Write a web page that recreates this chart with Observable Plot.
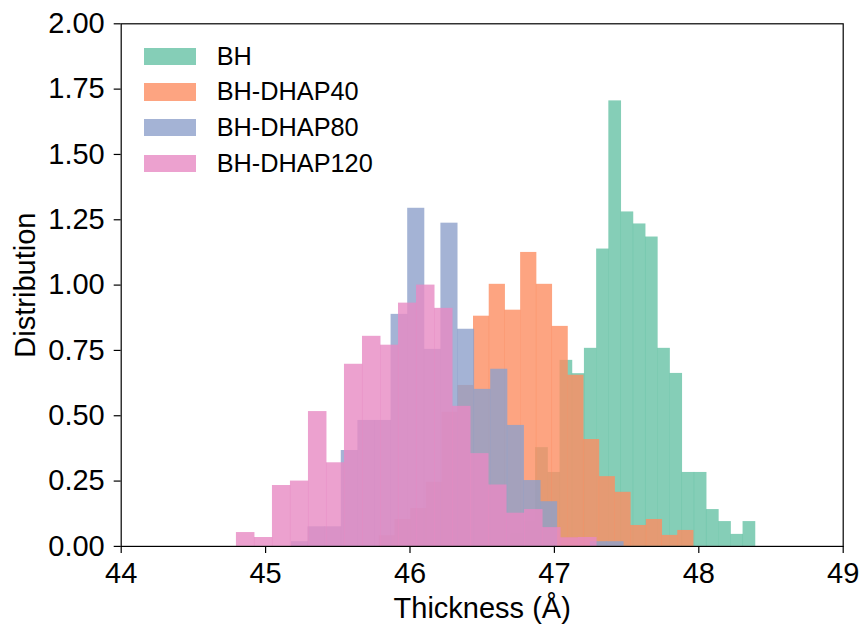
<!DOCTYPE html>
<html>
<head>
<meta charset="utf-8">
<script src="https://cdn.jsdelivr.net/npm/d3@7"></script>
<script src="https://cdn.jsdelivr.net/npm/@observablehq/plot@0.6"></script>
<style>
  body { margin: 0; background: #fff; }
  #wrap { position: relative; width: 863px; height: 629px; font-family: "Liberation Sans", Arial, sans-serif; }
  #wrap svg { display: block; }
  .item { position: absolute; display: flex; align-items: center; height: 17.3px; }
  .patch { width: 52px; height: 17.3px; }
  .lab { margin-left: 20.7px; font-size: 25.3px; line-height: 17.3px; color: #000; white-space: nowrap; }
</style>
</head>
<body>
<div id="wrap"></div>
<script>
// ---- data ----
const series = ["BH", "BH-DHAP40", "BH-DHAP80", "BH-DHAP120"];
const seriesColors = ["#66c2a5", "#fc8d62", "#8da0cb", "#e78ac3"];

// histogram range (Å) of each series, 20 bins each
const binLo = [46.701, 45.787, 45.179, 44.798];
const binHi = [48.391, 47.963, 47.479, 47.292];

// densities per bin
const densityBH = [0.047, 0.095, 0.378, 0.283, 0.712, 0.661, 0.758, 1.138, 1.705, 1.280,
                   1.234, 1.184, 0.758, 0.662, 0.283, 0.283, 0.141, 0.095, 0.046, 0.095];
const densityDHAP40 = [0.041, 0.103, 0.145, 0.245, 0.513, 0.616, 0.881, 1.003, 0.904, 1.125,
                       1.003, 0.842, 0.655, 0.409, 0.267, 0.207, 0.080, 0.103, 0.042, 0.061];
const densityDHAP80 = [0.018, 0.075, 0.075, 0.367, 0.482, 0.482, 0.888, 1.294, 0.754, 1.237,
                       0.831, 0.601, 0.678, 0.463, 0.252, 0.171, 0.000, 0.000, 0.018, 0.018];
const densityDHAP120 = [0.053, 0.034, 0.233, 0.250, 0.516, 0.320, 0.697, 0.804, 0.770, 0.931,
                        1.000, 0.911, 0.536, 0.355, 0.235, 0.127, 0.141, 0.072, 0.033, 0.034];

const xTicks = [44, 45, 46, 47, 48, 49];
const yTicks = [0, 0.25, 0.5, 0.75, 1, 1.25, 1.5, 1.75, 2];
const xLabel = "Thickness (Å)";
const yLabel = "Distribution";

// ---- build bin tables ----
const densities = [densityBH, densityDHAP40, densityDHAP80, densityDHAP120];
const tables = series.map((name, i) => {
  const h = densities[i];
  const n = h.length;
  const w = (binHi[i] - binLo[i]) / n;
  return h.map((y, j) => ({series: name, x1: binLo[i] + j * w, x2: binLo[i] + (j + 1) * w, y}));
});

const font = "Liberation Sans, Arial, sans-serif";

const chart = Plot.plot({
  width: 863,
  height: 629,
  marginLeft: 120.7,
  marginRight: 20.3,
  marginTop: 23.3,
  marginBottom: 83.1,
  style: {fontFamily: font, background: "#fff", color: "#000"},
  x: {domain: [44, 49], label: null},
  y: {domain: [0, 2], label: null},
  marks: [
    ...tables.map((t, i) => Plot.rectY(t, {
      x1: "x1", x2: "x2", y: "y",
      insetRight: -0.5,
      fill: seriesColors[i], fillOpacity: 0.8
    })),
    Plot.frame({stroke: "#000", strokeWidth: 1.2}),
    Plot.axisX(xTicks, {
      tickSize: 7, tickPadding: 9, fontSize: 29, strokeWidth: 1.2,
      tickFormat: d => String(d), label: null
    }),
    Plot.axisY(yTicks, {
      tickSize: 7, tickPadding: 9.5, fontSize: 29, strokeWidth: 1.2,
      tickFormat: d3.format(".2f"), label: null
    }),
    Plot.text([xLabel], {
      text: d => d, frameAnchor: "bottom", dy: 51.5, lineAnchor: "top",
      textAnchor: "middle", fontSize: 29, fill: "#000"
    }),
    Plot.text([yLabel], {
      text: d => d, frameAnchor: "left", rotate: -90, dx: -86.4, lineAnchor: "bottom",
      textAnchor: "middle", fontSize: 29, fill: "#000"
    })
  ]
});

const wrap = document.getElementById("wrap");
wrap.appendChild(chart);

// legend (inside the axes, upper left)
series.forEach((name, i) => {
  const item = document.createElement("div");
  item.className = "item";
  item.style.left = "144px";
  item.style.top = (47.7 + i * 35.7) + "px";
  const patch = document.createElement("div");
  patch.className = "patch";
  const c = d3.color(seriesColors[i]);
  c.opacity = 0.8;
  patch.style.background = c.formatRgb();
  const lab = document.createElement("span");
  lab.className = "lab";
  lab.textContent = name;
  item.appendChild(patch);
  item.appendChild(lab);
  wrap.appendChild(item);
});
</script>
</body>
</html>
